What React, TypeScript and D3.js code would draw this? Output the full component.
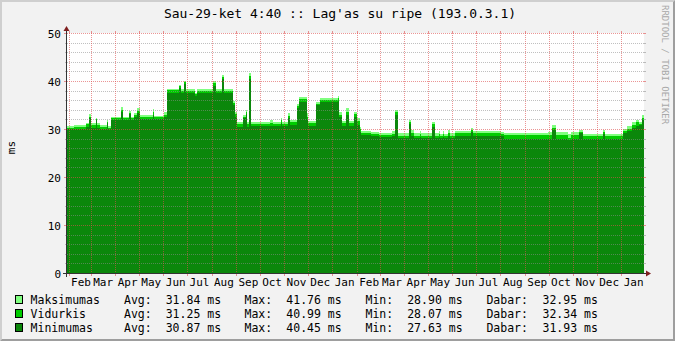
import React from 'react';
import * as d3 from 'd3';

// Time span: two years ending "Sau-29" (Jan 29) 4:40
const START = new Date(2007, 0, 29, 4, 40);
const END = new Date(2009, 0, 29, 4, 40);

// Segment start (days after START), step values in ms
const segDay = [0, 9, 24, 28, 30, 37, 38, 42, 51, 52, 56, 68, 71, 78, 81, 85, 89, 92, 109, 110,
  123, 127, 142, 144, 148, 151, 162, 165, 185, 189, 196, 199, 210, 213, 215, 223, 227, 228, 230, 233,
  257, 261, 271, 272, 280, 282, 291, 294, 304, 305, 315, 316, 320, 343, 345, 349, 353, 354, 357, 364,
  368, 371, 373, 385, 395, 412, 415, 419, 433, 436, 439, 447, 448, 463, 466, 471, 472, 476, 477, 483,
  485, 491, 512, 514, 550, 554, 609, 610, 615, 619, 635, 639, 649, 654, 658, 679, 682, 705, 709, 716,
  721, 725, 728];

const maxVals = [30.6, 30.8, 31.25, 33.1, 31.25, 32.2, 31.25, 30.8, 31.9, 30.6, 32.6, 34.6, 32.6, 33.75, 32.5, 33.4, 34.3, 32.9, 34.1, 32.8,
  33.5, 38.3, 39.2, 38.3, 40.1, 38.3, 37.6, 38.3, 40.0, 38.3, 41.25, 38.3, 35.8, 33.6, 31.4, 32.9, 34.0, 31.4, 41.76, 31.4,
  31.9, 31.4, 32.2, 31.5, 33.3, 31.9, 35.3, 36.7, 33.3, 31.7, 33.0, 35.7, 36.4, 36.9, 33.6, 31.7, 37.2, 34.3, 31.7, 33.6,
  32.2, 30.5, 29.65, 29.4, 29.1, 29.6, 34.0, 29.1, 31.9, 29.8, 29.1, 29.6, 29.1, 31.5, 29.1, 29.5, 29.0, 29.5, 29.0, 29.8,
  29.1, 29.6, 30.3, 29.6, 29.4, 29.2, 29.8, 29.3, 30.8, 29.3, 28.9, 29.3, 29.8, 29.0, 28.95, 29.8, 28.95, 30.1, 30.6, 31.4,
  31.9, 31.5, 32.95];

const avgVals = [30.3, 30.4, 31.0, 32.6, 30.9, 32.0, 30.8, 30.4, 31.5, 30.3, 32.2, 34.0, 32.2, 33.4, 32.2, 32.9, 33.8, 32.6, 33.5, 32.4,
  33.0, 38.05, 38.9, 38.0, 39.7, 38.0, 37.2, 38.0, 39.5, 38.0, 40.9, 38.0, 35.4, 33.1, 31.0, 32.5, 33.5, 31.0, 40.99, 31.1,
  31.3, 31.1, 31.8, 31.1, 32.8, 31.4, 34.8, 36.3, 32.6, 31.2, 32.4, 35.3, 36.1, 36.4, 33.0, 31.2, 36.7, 33.6, 31.2, 33.1,
  31.6, 29.9, 29.2, 28.9, 28.7, 29.0, 33.5, 28.6, 31.5, 29.2, 28.6, 29.0, 28.6, 31.0, 28.6, 28.9, 28.6, 29.0, 28.6, 29.2,
  28.6, 29.1, 29.8, 29.1, 28.9, 28.75, 29.2, 28.7, 30.3, 28.7, 28.07, 28.7, 29.4, 28.6, 28.5, 29.3, 28.5, 29.6, 30.1, 30.8,
  31.4, 31.1, 32.34];

const minVals = [30.0, 30.0, 30.4, 32.3, 30.2, 31.8, 30.2, 30.0, 31.2, 30.0, 31.9, 33.6, 31.9, 33.1, 31.9, 32.6, 33.3, 32.1, 33.0, 32.0,
  32.4, 37.6, 38.5, 37.6, 39.3, 37.6, 36.9, 37.6, 39.0, 37.6, 40.4, 37.6, 35.0, 32.6, 30.5, 32.2, 33.1, 30.5, 40.45, 30.6,
  30.7, 30.6, 31.2, 30.6, 32.3, 30.8, 34.3, 35.7, 32.0, 30.7, 31.6, 35.0, 35.7, 35.9, 32.4, 30.7, 36.2, 33.0, 30.7, 32.6,
  30.9, 29.4, 28.75, 28.5, 28.3, 28.6, 32.9, 28.2, 31.0, 28.6, 28.2, 28.3, 28.2, 30.5, 28.2, 28.3, 28.2, 28.4, 28.2, 28.5,
  28.2, 28.6, 29.3, 28.6, 28.5, 28.0, 28.4, 28.0, 29.8, 28.0, 27.63, 28.0, 29.1, 28.0, 28.0, 29.0, 28.0, 29.1, 29.6, 30.3,
  30.7, 30.8, 31.93];

const yMajorTicks = [0, 10, 20, 30, 40, 50];
const yMinorTicks = [2, 4, 6, 8, 12, 14, 16, 18, 22, 24, 26, 28, 32, 34, 36, 38, 42, 44, 46, 48];

const titleText = "Sau-29-ket 4:40 :: Lag'as su ripe (193.0.3.1)";
const unitText = 'ms';
const watermark = 'RRDTOOL / TOBI OETIKER';

const seriesNames = ['Maksimumas', 'Vidurkis', 'Minimumas'];
const seriesColors = ['#80ff80', '#00cc00', '#0b870b'];
const statAvg = ['31.84', '31.25', '30.87'];
const statMax = ['41.76', '40.99', '40.45'];
const statMin = ['28.90', '28.07', '27.63'];
const statNow = ['32.95', '32.34', '31.93'];

const DAY = 86400000;
const MONO = "'DejaVu Sans Mono', monospace";

export default function App() {
  const W = 675, H = 341;
  const X0 = 67, X1 = 644, Y0 = 273, Y1 = 33;
  const x = d3.scaleTime().domain([START, END]).range([X0, X1]);
  const y = d3.scaleLinear().domain([0, 50]).range([Y0, Y1]);

  const mk = (vals: number[]) => {
    const pts = segDay.map((d, i) => ({ t: new Date(START.getTime() + d * DAY), v: vals[i] }));
    pts.push({ t: END, v: vals[vals.length - 1] });
    return pts;
  };
  const area = d3.area<{ t: Date; v: number }>()
    .x(d => x(d.t))
    .y0(Y0)
    .y1(d => y(d.v))
    .curve(d3.curveStepAfter);

  const series = [maxVals, avgVals, minVals];

  const months = d3.timeMonth.range(START, END);
  const labelMonths = d3.timeMonth
    .range(d3.timeMonth.floor(START), END)
    .map(m => ({ m, t: new Date(m.getTime() + 15 * DAY) }))
    .filter(o => o.t >= START && o.t <= END);
  const fmt = d3.timeFormat('%b');

  const minorColor = 'rgba(140,140,140,0.55)';
  const majorColor = 'rgba(222,79,79,0.6)';
  const sy = (v: number) => Math.round(y(v)) + 0.5;
  const sx = (t: Date) => Math.floor(x(t)) + 0.5;

  const rowY = [303.5, 317.5, 331.5];

  return (
    <svg width={W} height={H} style={{ position: 'absolute', left: 0, top: 0 }} xmlns="http://www.w3.org/2000/svg">
      <rect x={0} y={0} width={W} height={H} fill="#f2f2f2" />
      <polygon points={`0,${H} 2,${H - 2} 2,2 ${W - 2},2 ${W},0 0,0`} fill="#cfcfcf" />
      <polygon points={`2,${H - 2} ${W - 2},${H - 2} ${W - 2},2 ${W},0 ${W},${H} 0,${H}`} fill="#9e9e9e" />
      <rect x={X0} y={Y1} width={X1 - X0} height={Y0 - Y1} fill="#ffffff" />

      {series.map((vals, i) => (
        <path key={i} d={area(mk(vals)) || ''} fill={seriesColors[i]} shapeRendering="crispEdges" />
      ))}

      {/* minor horizontal grid */}
      {yMinorTicks.map(v => (
        <g key={'mn' + v} shapeRendering="crispEdges">
          <line x1={X0 - 2} x2={X0} y1={sy(v)} y2={sy(v)} stroke={minorColor} />
          <line x1={X1} x2={X1 + 2} y1={sy(v)} y2={sy(v)} stroke={minorColor} />
          <line x1={X0} x2={X1} y1={sy(v)} y2={sy(v)} stroke={minorColor} strokeDasharray="1,1" />
        </g>
      ))}
      {/* vertical month grid */}
      {months.map(m => (
        <g key={'vm' + m.getTime()} shapeRendering="crispEdges">
          <line x1={sx(m)} x2={sx(m)} y1={Y0} y2={Y0 + 3} stroke={majorColor} />
          <line x1={sx(m)} x2={sx(m)} y1={Y1 - 2} y2={Y1} stroke={majorColor} />
          <line x1={sx(m)} x2={sx(m)} y1={Y1} y2={Y0} stroke={majorColor} strokeDasharray="1,1" />
        </g>
      ))}
      {/* major horizontal grid */}
      {yMajorTicks.map(v => (
        <g key={'mj' + v} shapeRendering="crispEdges">
          <line x1={X0 - 3} x2={X0} y1={sy(v)} y2={sy(v)} stroke={majorColor} />
          <line x1={X1} x2={X1 + 2} y1={sy(v)} y2={sy(v)} stroke={majorColor} />
          {v > 0 && <line x1={X0} x2={X1} y1={sy(v)} y2={sy(v)} stroke={majorColor} strokeDasharray="1,1" />}
        </g>
      ))}

      {/* axes */}
      <line x1={X0 - 4} x2={X1 + 4} y1={Y0 + 0.5} y2={Y0 + 0.5} stroke="#333" shapeRendering="crispEdges" />
      <line x1={X0 - 0.5} x2={X0 - 0.5} y1={Y0 + 4} y2={Y1 - 4} stroke="#333" shapeRendering="crispEdges" />
      <polygon points={`${X1 + 2},${Y0 + 0.5 - 3} ${X1 + 2},${Y0 + 0.5 + 3} ${X1 + 7},${Y0 + 0.5}`} fill="#7f1f1f" />
      <polygon points={`${X0 - 3.5},${Y1 - 2} ${X0 + 2.5},${Y1 - 2} ${X0 - 0.5},${Y1 - 7}`} fill="#7f1f1f" />

      {/* y labels */}
      {yMajorTicks.map(v => (
        <text key={'yl' + v} x={61} y={y(v) + 4.5} textAnchor="end" fontFamily={MONO} fontSize={11} fill="#000">{v}</text>
      ))}
      {/* x labels */}
      {labelMonths.map(o => (
        <text key={'xl' + o.t.getTime()} x={x(o.t)} y={285.5} textAnchor="middle" fontFamily={MONO} fontSize={11} fill="#000">{fmt(o.m)}</text>
      ))}

      {/* title */}
      <text x={340} y={17.5} textAnchor="middle" fontFamily={MONO} fontSize={13} fill="#000">{titleText}</text>
      {/* unit */}
      <text transform={`translate(14.5,147.5) rotate(-90)`} textAnchor="middle" fontFamily={MONO} fontSize={11} fill="#000">{unitText}</text>
      {/* watermark */}
      <text transform={`translate(661.5,5) rotate(90)`} textAnchor="start" fontFamily={MONO} fontSize={9} fill="#a8a8a8">{watermark}</text>

      {/* legend */}
      {seriesNames.map((n, i) => (
        <g key={'lg' + i} fontFamily={MONO} fontSize={11.5} fill="#000">
          <rect x={15.5} y={rowY[i] - 8} width={7} height={8} fill={seriesColors[i]} stroke="#000" shapeRendering="crispEdges" />
          <text x={30.6} y={rowY[i]}>{n}</text>
          <text x={124} y={rowY[i]}>Avg:</text>
          <text x={165.7} y={rowY[i]}>{statAvg[i]} ms</text>
          <text x={244.5} y={rowY[i]}>Max:</text>
          <text x={286.3} y={rowY[i]}>{statMax[i]} ms</text>
          <text x={365.5} y={rowY[i]}>Min:</text>
          <text x={407.2} y={rowY[i]}>{statMin[i]} ms</text>
          <text x={486.4} y={rowY[i]}>Dabar:</text>
          <text x={542.5} y={rowY[i]}>{statNow[i]} ms</text>
        </g>
      ))}
    </svg>
  );
}
